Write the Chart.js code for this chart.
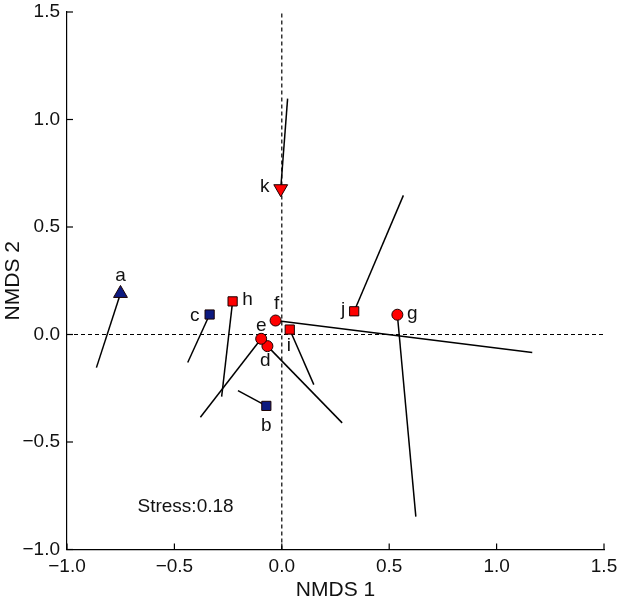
<!DOCTYPE html>
<html>
<head>
<meta charset="utf-8">
<script src="https://cdn.jsdelivr.net/npm/chart.js@4.4.1/dist/chart.umd.min.js"></script>
<style>
  html, body { margin: 0; padding: 0; background: #fff; }
  #wrap { width: 619px; height: 603px; position: relative; }
</style>
</head>
<body>
<div id="wrap"><canvas id="c" width="619" height="603"></canvas></div>
<script>
// ---- data ----
const siteLabels = ['a', 'b', 'c', 'd', 'e', 'f', 'g', 'h', 'i', 'j', 'k'];
const siteGroup  = ['A', 'B', 'B', 'C', 'C', 'C', 'C', 'D', 'D', 'D', 'E'];
const nmds1      = [-0.751, -0.072, -0.336, -0.067, -0.096, -0.029, 0.538, -0.229, 0.037, 0.337, -0.005];
const nmds2      = [0.191, -0.332, 0.093, -0.054, -0.020, 0.065, 0.092, 0.154, 0.023, 0.108, 0.678];
const vecEnd1    = [-0.863, -0.204, -0.438, 0.281, -0.379, 1.166, 0.624, -0.280, 0.149, 0.566, 0.027];
const vecEnd2    = [-0.154, -0.261, -0.130, -0.411, -0.385, -0.084, -0.847, -0.289, -0.233, 0.647, 1.097];
const tickValues = [-1.0, -0.5, 0.0, 0.5, 1.0, 1.5];
const stressText = 'Stress:0.18';
const stressPos  = [-0.448, -0.80];

// ---- styles ----
const NAVY = '#0d1a80', RED = '#ff0000';
const groupStyle = {
  A: { pointStyle: 'triangle', radius: 8, rotation: 0,   color: NAVY },
  B: { pointStyle: 'rect',     radius: 6.5, rotation: 0, color: NAVY },
  C: { pointStyle: 'circle',   radius: 5.5, rotation: 0, color: RED },
  D: { pointStyle: 'rect',     radius: 6.5, rotation: 0, color: RED },
  E: { pointStyle: 'triangle', radius: 8, rotation: 180, color: RED }
};
// label offsets in pixels relative to the marker
const labelOffset = {
  a: [0, -18], b: [0, 20], c: [-15, 1], d: [-2, 15], e: [0, -13], f: [1, -17],
  g: [15, -1], h: [15, -2], i: [-1, 16], j: [-11, -2], k: [-16, -2]
};
const FONT = 'Liberation Sans, Arial, Helvetica, sans-serif';

const datasets = [];
Object.keys(groupStyle).forEach(g => {
  const st = groupStyle[g];
  const pts = [];
  siteLabels.forEach((l, i) => { if (siteGroup[i] === g) pts.push({ x: nmds1[i], y: nmds2[i], label: l }); });
  datasets.push({
    data: pts, order: 0, showLine: false,
    pointStyle: st.pointStyle, pointRadius: st.radius, pointRotation: st.rotation,
    pointBackgroundColor: st.color, pointBorderColor: '#1a0000', pointBorderWidth: 1,
    pointHoverRadius: st.radius
  });
});
siteLabels.forEach((l, i) => {
  datasets.push({
    data: [{ x: nmds1[i], y: nmds2[i] }, { x: vecEnd1[i], y: vecEnd2[i] }],
    showLine: true, order: 1, pointRadius: 0, borderColor: '#000', borderWidth: 1.5, tension: 0
  });
});
datasets.push({ data: [{ x: -1, y: 0 }, { x: 1.5, y: 0 }], showLine: true, order: 2, pointRadius: 0,
  borderColor: '#000', borderWidth: 1.2, borderDash: [4, 3] });
datasets.push({ data: [{ x: 0, y: -1 }, { x: 0, y: 1.5 }], showLine: true, order: 2, pointRadius: 0,
  borderColor: '#000', borderWidth: 1.2, borderDash: [4, 3] });

const fmt = v => (v < 0 ? '\u2212' : '') + Math.abs(v).toFixed(1);

const decor = {
  id: 'decor',
  afterDatasetsDraw(chart) {
    const { ctx, scales: { x, y } } = chart;
    ctx.save();
    ctx.strokeStyle = '#000'; ctx.lineWidth = 1.2;
    tickValues.forEach(v => {
      const px = x.getPixelForValue(v), py = y.getPixelForValue(v);
      ctx.beginPath(); ctx.moveTo(px, y.bottom); ctx.lineTo(px, y.bottom - 6); ctx.stroke();
      ctx.beginPath(); ctx.moveTo(x.left, py); ctx.lineTo(x.left + 6, py); ctx.stroke();
    });
    ctx.fillStyle = '#111';
    ctx.font = '19px ' + FONT;
    ctx.textAlign = 'center'; ctx.textBaseline = 'middle';
    siteLabels.forEach((l, i) => {
      const o = labelOffset[l];
      ctx.fillText(l, x.getPixelForValue(nmds1[i]) + o[0], y.getPixelForValue(nmds2[i]) + o[1]);
    });
    ctx.font = '19px ' + FONT;
    ctx.fillText(stressText, x.getPixelForValue(stressPos[0]), y.getPixelForValue(stressPos[1]));
    ctx.restore();
  }
};

new Chart(document.getElementById('c'), {
  type: 'scatter',
  data: { datasets },
  options: {
    responsive: false, animation: false, devicePixelRatio: 1,
    layout: { padding: { top: 12, right: 15, left: 0, bottom: 0 } },
    plugins: { legend: { display: false }, tooltip: { enabled: false } },
    scales: {
      x: {
        type: 'linear', min: -1, max: 1.5,
        afterBuildTicks: s => { s.ticks = tickValues.map(v => ({ value: v })); },
        afterFit: s => { s.height = 53.5; s.paddingLeft = 0; s.paddingRight = 0; },
        grid: { display: false, drawTicks: false },
        border: { display: true, color: '#000', width: 1.2 },
        ticks: { color: '#111', font: { family: FONT, size: 19 }, padding: 6, maxRotation: 0, callback: v => fmt(v) },
        title: { display: true, text: 'NMDS 1', color: '#111', font: { family: FONT, size: 21 }, padding: { top: 0, bottom: 0 } }
      },
      y: {
        type: 'linear', min: -1, max: 1.5,
        afterBuildTicks: s => { s.ticks = tickValues.map(v => ({ value: v })); },
        afterFit: s => { s.width = 67; s.paddingTop = 0; s.paddingBottom = 0; },
        grid: { display: false, drawTicks: false },
        border: { display: true, color: '#000', width: 1.2 },
        ticks: { color: '#111', font: { family: FONT, size: 19 }, padding: 7, callback: v => fmt(v) },
        title: { display: true, text: 'NMDS 2', color: '#111', font: { family: FONT, size: 21 }, padding: { top: 1, bottom: 0 } }
      }
    }
  },
  plugins: [decor]
});
</script>
</body>
</html>
